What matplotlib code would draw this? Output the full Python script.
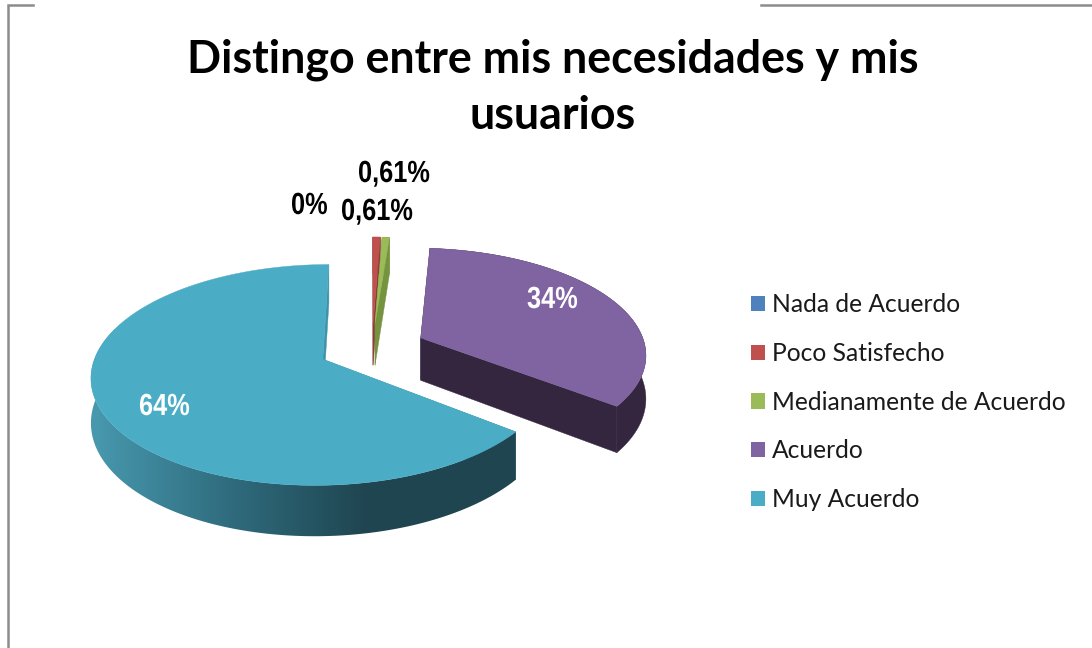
import numpy as np
import matplotlib
matplotlib.use('Agg')
import matplotlib.pyplot as plt
from matplotlib.colors import LinearSegmentedColormap
from matplotlib.patches import Patch, Polygon
from matplotlib.patheffects import AbstractPathEffect
from matplotlib.transforms import Affine2D

TITLE = 'Distingo entre mis necesidades y mis\nusuarios'
categories = ['Nada de Acuerdo', 'Poco Satisfecho', 'Medianamente de Acuerdo', 'Acuerdo', 'Muy Acuerdo']
values = [0, 0.61, 0.61, 34, 64]
value_labels = ['0%', '0,61%', '0,61%', '34%', '64%']
colors = ['#4F81BD', '#C0504D', '#9BBB59', '#8064A2', '#4BACC6']
wall_colors = ['#34506f', '#8a3d3a', '#76933f', '#35263F', '#3F93A9']

# left edge / centre height of each value label, in pixels
label_pos = [(291, 206), (341, 212), (358, 174), (527, 300), (139, 407)]
label_colors = ['black', 'black', 'black', 'white', 'white']

# fake 3d: pie lies flat, simple perspective on the way to the screen
CENTER_X, CENTER_Y = 372, 348
SCALE_X, SCALE_Y = 225, 105
PERSPECTIVE = 0.14
EXPLODE = 0.24
THICKNESS = 43

rim_cmap = LinearSegmentedColormap.from_list('rim', ['#4797AD', '#2F6B7D', '#1F4550'])


class Squeeze(AbstractPathEffect):
    # no narrow bold font here, so narrow the glyphs of the normal one
    def __init__(self, factor):
        super().__init__()
        self.factor = factor

    def draw_path(self, renderer, gc, tpath, affine, rgbFace=None):
        renderer.draw_path(gc, tpath, Affine2D().scale(self.factor, 1) + affine, rgbFace)


def project(u, v, drop=0):
    s = 1 / (1 + PERSPECTIVE * v)
    return CENTER_X + SCALE_X * u * s, CENTER_Y - SCALE_Y * v * s + drop * s


def drawSlice(ax, start, end, top_color, wall_color, gradient=False):
    mid = (start + end) / 2
    off_u, off_v = EXPLODE * np.sin(mid), EXPLODE * np.cos(mid)
    angles = np.linspace(start, end, max(5, int((end - start) * 60)))
    u = off_u + np.sin(angles)
    v = off_v + np.cos(angles)

    # side faces from the centre out to the rim
    for a in (start, end):
        xs, ys = project(np.array([off_u, off_u + np.sin(a)]), np.array([off_v, off_v + np.cos(a)]))
        xb, yb = project(np.array([off_u, off_u + np.sin(a)]), np.array([off_v, off_v + np.cos(a)]), THICKNESS)
        ax.fill([xs[0], xs[1], xb[1], xb[0]], [ys[0], ys[1], yb[1], yb[0]],
                color=wall_color, lw=0.3, zorder=2)

    # outer wall, only the front part can be seen
    xt, yt = project(u, v)
    front = angles < 1.6 * np.pi
    xw, yw = xt[front], yt[front]
    xb, yb = project(u[front], v[front], THICKNESS)
    wall = np.c_[np.r_[xw, xb[::-1]], np.r_[yw, yb[::-1]]]
    if gradient:
        shade = np.clip((np.arange(90, 530) - 97) / (367 - 97), 0, 1)
        im = ax.imshow(shade[None, :], cmap=rim_cmap, vmin=0, vmax=1, aspect='auto',
                       extent=(90, 530, 560, 250), zorder=3)
        im.set_clip_path(Polygon(wall, closed=True, transform=ax.transData))
    else:
        ax.fill(wall[:, 0], wall[:, 1], color=wall_color, lw=0.3, zorder=3)

    # top surface
    x0, y0 = project(off_u, off_v)
    ax.fill(np.r_[x0, xt], np.r_[y0, yt], color=top_color, lw=0.3, zorder=4)


fig = plt.figure(figsize=(10.92, 6.48), dpi=100)
ax = fig.add_axes([0, 0, 1, 1])

# chart frame, cut open where the screenshot cuts it
ax.plot([33, 8, 8], [5, 5, 648], color='#8C8C8C', lw=1.8, solid_joinstyle='miter')
ax.plot([761, 1092], [5, 5], color='#8C8C8C', lw=1.8)

total = sum(values)
angle = 0
for i, val in enumerate(values):
    sweep = 2 * np.pi * val / total
    if val > 0:
        drawSlice(ax, angle, angle + sweep, colors[i], wall_colors[i], gradient=(i == 4))
    angle += sweep

ax.set_xlim(0, 1092)
ax.set_ylim(648, 0)
ax.axis('off')

for (x, y), lab, c in zip(label_pos, value_labels, label_colors):
    ax.text(x, y, lab, color=c, ha='left', va='center', fontsize=22, fontweight='bold',
            family='Liberation Sans', zorder=6, path_effects=[Squeeze(0.83)])

ax.text(552.5, 88, TITLE, ha='center', va='center', fontsize=32.2, fontweight='bold',
        family='Lato', color='black', linespacing=1.42)

handles = [Patch(facecolor=c, edgecolor='none') for c in colors]
ax.legend(handles, categories, loc='upper left', bbox_to_anchor=(751, 293), bbox_transform=ax.transData,
          frameon=False, prop={'family': 'Lato', 'size': 17.7}, labelcolor='#1a1a1a',
          handlelength=0.57, handleheight=0.57, handletextpad=0.28, labelspacing=1.05, borderpad=0, borderaxespad=0)

plt.savefig('out.png', dpi=100)
